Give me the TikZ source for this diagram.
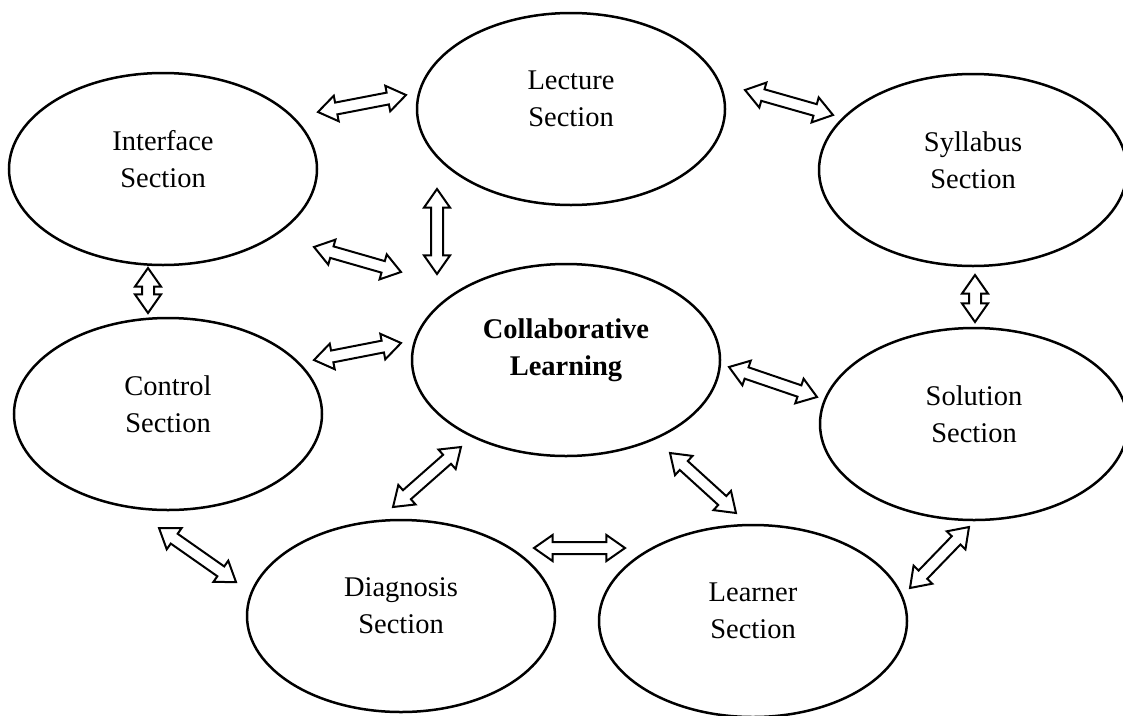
\documentclass[tikz,border=0pt]{standalone}
\usepackage{fontspec}
\setmainfont{Liberation Serif}
\usetikzlibrary{shapes.geometric, shapes.arrows, calc}

% hollow two-headed arrow between two named points
\newcommand{\dblink}[2]{%
  \path let \p1=($(#2)-(#1)$), \n1={veclen(\x1,\y1)} in
    (#1) -- node[link, sloped, minimum height=\n1] (#1-#2) {} (#2);}

\begin{document}
\begin{tikzpicture}[x=1pt, y=-1pt,
    font=\fontsize{28.5}{37}\selectfont,
    section/.style={ellipse, draw, line width=2.5pt, minimum width=308pt, minimum height=192pt, inner sep=0pt},
    sectext/.style={align=center, yshift=10pt},
    link/.style={double arrow, draw, fill=white, line width=2pt, inner xsep=0pt, inner ysep=5pt,
      minimum width=0pt, double arrow head extend=7pt, double arrow tip angle=70},
  ]
  \useasboundingbox (0,0) rectangle (1123,715);

  % the eight sections
  \foreach \name/\px/\py/\txt in {
    lecture/571/109/{Lecture\\Section},
    interface/163/169/{Interface\\Section},
    syllabus/973/170/{Syllabus\\Section},
    collab/566/360/{\textbf{Collaborative}\\\textbf{Learning}},
    control/168/414/{Control\\Section},
    solution/974/424/{Solution\\Section},
    diagnosis/401/616/{Diagnosis\\Section},
    learner/753/621/{Learner\\Section}}
    \node[section, label={[sectext, name=\name-text]center:\txt}] (\name) at (\px,\py) {};

  % arrow end points
  \coordinate (il1) at (318,112);  \coordinate (il2) at (406,95);
  \coordinate (ls1) at (745,90);   \coordinate (ls2) at (833,115);
  \coordinate (ic1) at (314,247);  \coordinate (ic2) at (401,272);
  \coordinate (lc1) at (437,189);  \coordinate (lc2) at (437,274);
  \coordinate (it1) at (148,268);  \coordinate (it2) at (148,313);
  \coordinate (ss1) at (975,275);  \coordinate (ss2) at (975,322);
  \coordinate (tc1) at (314,360);  \coordinate (tc2) at (401,343);
  \coordinate (cs1) at (729,367);  \coordinate (cs2) at (817,397);
  \coordinate (td1) at (159,528);  \coordinate (td2) at (236,582);
  \coordinate (dc1) at (393,507);  \coordinate (dc2) at (461,447);
  \coordinate (dl1) at (534,548);  \coordinate (dl2) at (625,548);
  \coordinate (cl1) at (670,453);  \coordinate (cl2) at (736,513);
  \coordinate (lo1) at (910,588);  \coordinate (lo2) at (969,527);

  % links between sections
  \foreach \a/\b in {il1/il2, ls1/ls2, ic1/ic2, lc1/lc2, it1/it2, ss1/ss2, tc1/tc2,
    cs1/cs2, td1/td2, dc1/dc2, dl1/dl2, cl1/cl2, lo1/lo2}
    {\dblink{\a}{\b}}
\end{tikzpicture}
\end{document}
